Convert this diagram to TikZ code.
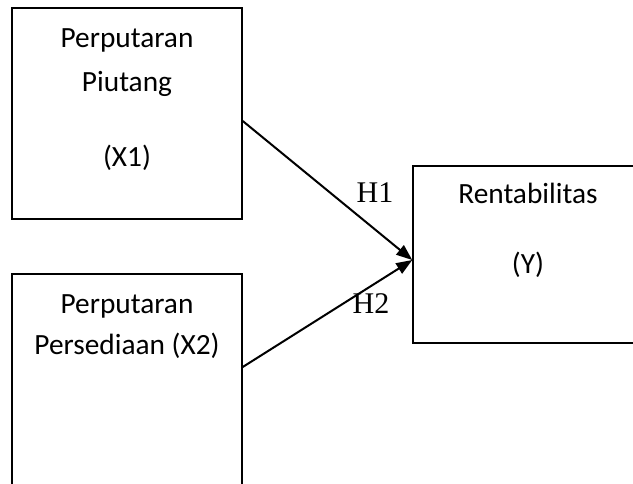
\documentclass[tikz,border=0pt]{standalone}
\usepackage{fontspec}
\setmainfont{Carlito}
\newfontfamily\hfont{Liberation Serif}
\usetikzlibrary{arrows.meta}
\begin{document}
\begin{tikzpicture}[x=0.75pt,y=-0.75pt,
  box/.style={draw=black,line width=1.1pt,rectangle,inner sep=0pt},
  lbl/.style={anchor=base,inner sep=0pt,font=\fontsize{22}{26}\selectfont},
  hlbl/.style={anchor=base,inner sep=0pt,font=\hfont\fontsize{22.5}{26}\selectfont},
  arr/.style={line width=1.5pt,-{Triangle[length=12pt,width=9pt]}}]
\clip (0,0) rectangle (633,483);
\fill[white] (0,0) rectangle (633,483);
% boxes
\node[box,minimum width=172.5pt,minimum height=158.25pt] (b1) at (127,113.5) {};
\node[box,minimum width=172.5pt,minimum height=177pt] (b2) at (127,392) {};
\node[box,minimum width=185.25pt,minimum height=132.75pt] (b3) at (536.5,254.5) {};
% texts
\node[lbl] (t11) at (127,47) {Perputaran};
\node[lbl] (t12) at (127,91) {Piutang};
\node[lbl] (t13) at (127,166) {(X1)};
\node[lbl] (t21) at (127,313) {Perputaran};
\node[lbl] (t22) at (127,354) {Persediaan (X2)};
\node[lbl] (t31) at (528,203) {Rentabilitas};
\node[lbl] (t32) at (528,273) {(Y)};
% connectors
\coordinate (s1) at (b1.north east |- 0,121);
\coordinate (s2) at (b2.north east |- 0,367);
\coordinate (e1) at (b3.north west |- 0,260);
\draw[arr] (s1) -- (e1);
\draw[arr] (s2) -- (e1);
\node[hlbl] (h1) at (375,202) {H1};
\node[hlbl] (h2) at (371,313) {H2};
\end{tikzpicture}
\end{document}
